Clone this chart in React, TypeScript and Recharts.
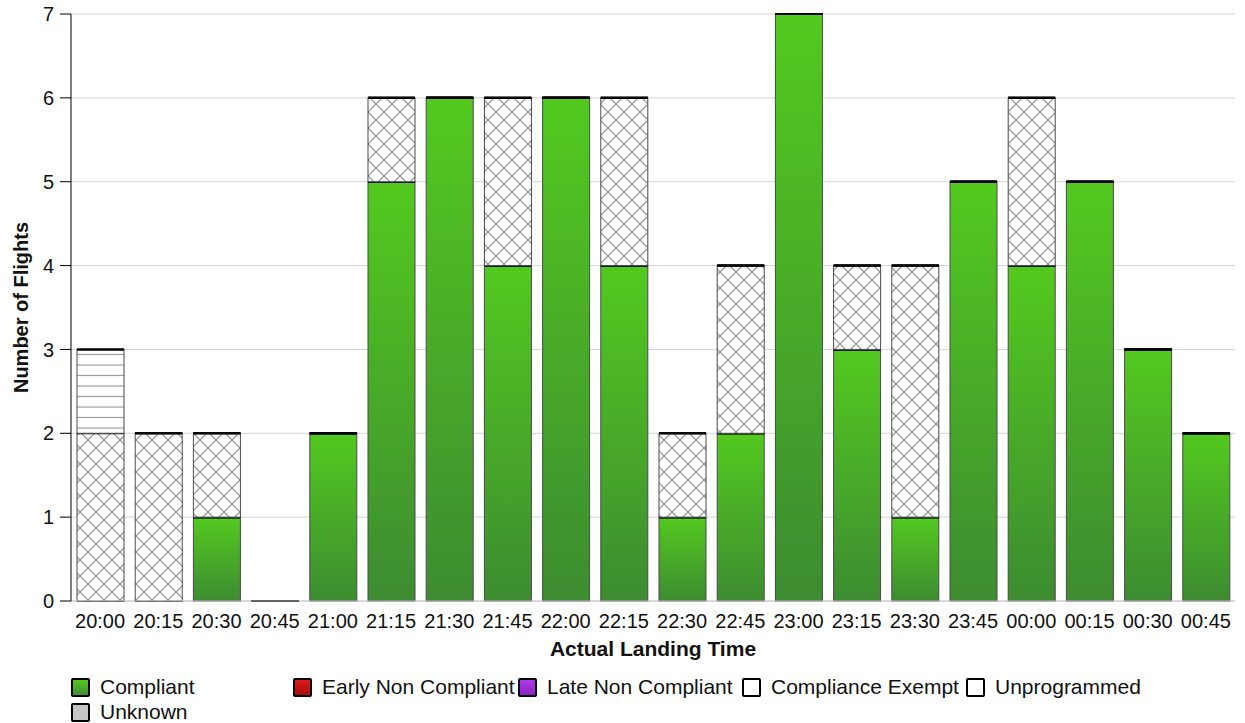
import React from "react";
import { Bar, BarChart, CartesianGrid, XAxis, YAxis } from "recharts";

const times = [
  "20:00", "20:15", "20:30", "20:45", "21:00", "21:15", "21:30", "21:45", "22:00", "22:15",
  "22:30", "22:45", "23:00", "23:15", "23:30", "23:45", "00:00", "00:15", "00:30", "00:45"
];
const compliant = [0, 0, 1, 0, 2, 5, 6, 4, 6, 4, 1, 2, 7, 3, 1, 5, 4, 5, 3, 2];
const earlyNonCompliant = [0, 0, 0, 0, 0, 0, 0, 0, 0, 0, 0, 0, 0, 0, 0, 0, 0, 0, 0, 0];
const lateNonCompliant = [0, 0, 0, 0, 0, 0, 0, 0, 0, 0, 0, 0, 0, 0, 0, 0, 0, 0, 0, 0];
const complianceExempt = [2, 2, 1, 0, 0, 1, 0, 2, 0, 2, 1, 2, 0, 1, 3, 0, 2, 0, 0, 0];
const unprogrammed = [1, 0, 0, 0, 0, 0, 0, 0, 0, 0, 0, 0, 0, 0, 0, 0, 0, 0, 0, 0];
const unknown = [0, 0, 0, 0, 0, 0, 0, 0, 0, 0, 0, 0, 0, 0, 0, 0, 0, 0, 0, 0];
const yTicks = [0, 1, 2, 3, 4, 5, 6, 7];

const data = times.map((time, i) => ({
  time,
  compliant: compliant[i],
  early: earlyNonCompliant[i],
  late: lateNonCompliant[i],
  exempt: complianceExempt[i],
  unprogrammed: unprogrammed[i],
  unknown: unknown[i]
}));

const font = "'Liberation Sans', Arial, sans-serif";

const legendItems = [
  { label: "Compliant", swatch: "linear-gradient(#52c81f, #3f8f30)", left: 71, top: 677 },
  { label: "Early Non Compliant", swatch: "linear-gradient(#dc1a1a, #a80d0d)", left: 293, top: 677 },
  { label: "Late Non Compliant", swatch: "linear-gradient(#b13ae8, #8a22c4)", left: 518, top: 677 },
  { label: "Compliance Exempt", swatch: "#fff", left: 742, top: 677 },
  { label: "Unprogrammed", swatch: "#fff", left: 966, top: 677 },
  { label: "Unknown", swatch: "#c4c4c4", left: 71, top: 702 }
];

function Segment(props: any) {
  const { x, y, width, height, fill } = props;
  if (x == null || y == null) return null;
  const h = Math.max(0, height || 0);
  return (
    <g>
      {h > 0 && <rect x={x} y={y} width={width} height={h} fill={fill} stroke="#4a4a4a" strokeWidth={1} />}
      <line x1={x} x2={x + width} y1={y} y2={y} stroke="#000" strokeWidth={2} />
    </g>
  );
}

export default function App() {
  return (
    <div style={{ position: "relative", width: 1245, height: 723, fontFamily: font }}>
      <style>{"body{margin:0}"}</style>
      <BarChart
        width={1245}
        height={660}
        data={data}
        margin={{ top: 14, right: 10, left: 0, bottom: 0 }}
        barSize={47}
      >
        <defs>
          <linearGradient id="green" x1="0" y1="0" x2="0" y2="1">
            <stop offset="0%" stopColor="#53c91f" />
            <stop offset="100%" stopColor="#3d8c31" />
          </linearGradient>
          <linearGradient id="red" x1="0" y1="0" x2="0" y2="1">
            <stop offset="0%" stopColor="#dc1a1a" />
            <stop offset="100%" stopColor="#a80d0d" />
          </linearGradient>
          <linearGradient id="purple" x1="0" y1="0" x2="0" y2="1">
            <stop offset="0%" stopColor="#b13ae8" />
            <stop offset="100%" stopColor="#8a22c4" />
          </linearGradient>
          <pattern id="hatch" patternUnits="userSpaceOnUse" width={16} height={16}>
            <rect width={16} height={16} fill="#fff" />
            <path d="M0,0 L16,16 M16,0 L0,16" stroke="#8c8c8c" strokeWidth={1.2} />
          </pattern>
          <pattern id="lines" patternUnits="userSpaceOnUse" width={10} height={10.5}>
            <rect width={10} height={10.5} fill="#fff" />
            <path d="M0,8 L10,8" stroke="#8a8a8a" strokeWidth={1} />
          </pattern>
        </defs>
        <CartesianGrid vertical={false} stroke="#d4d4d4" />
        <XAxis
          dataKey="time"
          height={59}
          tickLine={false}
          axisLine={{ stroke: "#c8c8c8" }}
          tick={{ fill: "#111", fontSize: 20, fontFamily: font }}
          tickMargin={7}
          interval={0}
          label={{
            value: "Actual Landing Time",
            position: "insideBottom",
            offset: 4,
            fill: "#111",
            fontSize: 21,
            fontWeight: "bold",
            fontFamily: font
          }}
        />
        <YAxis
          width={71}
          domain={[0, 7]}
          ticks={yTicks}
          interval={0}
          tickSize={11}
          tickMargin={6}
          axisLine={{ stroke: "#000" }}
          tickLine={{ stroke: "#000" }}
          tick={{ fill: "#111", fontSize: 20, fontFamily: font }}
          label={{
            value: "Number of Flights",
            angle: -90,
            position: "insideLeft",
            offset: 21,
            fill: "#111",
            fontSize: 20,
            fontWeight: "bold",
            fontFamily: font,
            style: { textAnchor: "middle" }
          }}
        />
        <Bar dataKey="compliant" stackId="a" fill="url(#green)" shape={Segment} isAnimationActive={false} />
        <Bar dataKey="early" stackId="a" fill="url(#red)" shape={Segment} isAnimationActive={false} />
        <Bar dataKey="late" stackId="a" fill="url(#purple)" shape={Segment} isAnimationActive={false} />
        <Bar dataKey="exempt" stackId="a" fill="url(#hatch)" shape={Segment} isAnimationActive={false} />
        <Bar dataKey="unprogrammed" stackId="a" fill="url(#lines)" shape={Segment} isAnimationActive={false} />
        <Bar dataKey="unknown" stackId="a" fill="#c4c4c4" shape={Segment} isAnimationActive={false} />
      </BarChart>
      {legendItems.map((item) => (
        <div
          key={item.label}
          style={{ position: "absolute", left: item.left, top: item.top, display: "flex", alignItems: "center", height: 20 }}
        >
          <span
            style={{
              width: 15,
              height: 15,
              border: "2px solid #000",
              borderRadius: 2,
              background: item.swatch,
              display: "inline-block"
            }}
          />
          <span style={{ marginLeft: 10, fontSize: 21, color: "#111", whiteSpace: "nowrap" }}>{item.label}</span>
        </div>
      ))}
    </div>
  );
}
